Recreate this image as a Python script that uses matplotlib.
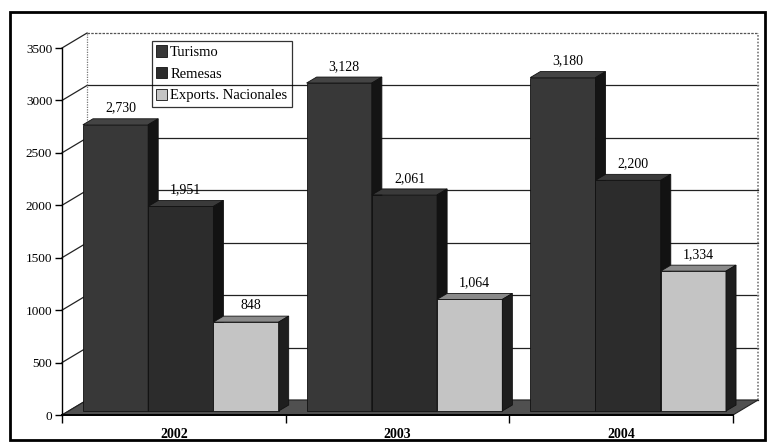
import numpy as np
import matplotlib.pyplot as plt
from matplotlib.patches import Patch, Rectangle

plt.rcParams['font.family'] = ['Liberation Serif', 'DejaVu Serif']

# Data (millones US$)
years = ['2002', '2003', '2004']
series = ['Turismo', 'Remesas', 'Exports. Nacionales']
turismo = [2730, 3128, 3180]
remesas = [1951, 2061, 2200]
exports = [848, 1064, 1334]
values = [turismo, remesas, exports]

# Colours: front, top, side
front_cols = ['#383838', '#2c2c2c', '#c4c4c4']
top_cols = ['#444444', '#3a3a3a', '#8a8a8a']
side_cols = ['#141414', '#121212', '#1e1e1e']

# pseudo-3D geometry (data units)
WALL_DX, WALL_DY = 0.112, 143     # depth of floor / side wall
BAR_DX, BAR_DY = 0.045, 57        # depth of the bars
OFF_X, OFF_Y = 0.031, 38          # bars sit mid-depth
BAR_W = 0.2917
YMAX = 3500

fig = plt.figure(figsize=(7.73, 4.47), dpi=100)
ax = fig.add_axes([62 / 773, 1 - 415 / 447, 671 / 773, 367 / 447])
ax.set_xlim(0, 3)
ax.set_ylim(0, YMAX)

# back wall gridlines and left wall diagonals
for v in range(0, YMAX + 1, 500):
    ls = (0, (2, 1)) if v == YMAX else '-'
    col = '#555555' if v == YMAX else '#222222'
    ax.plot([WALL_DX, 3 + WALL_DX], [v + WALL_DY, v + WALL_DY], color=col,
            lw=0.9, ls=ls, clip_on=False, zorder=1)
    ax.plot([0, WALL_DX], [v, v + WALL_DY], color='#222222', lw=0.9,
            clip_on=False, zorder=1)
ax.plot([WALL_DX, WALL_DX], [WALL_DY, YMAX + WALL_DY], color='#777777', lw=0.9,
        ls=(0, (1, 1)), clip_on=False, zorder=1)
ax.plot([3 + WALL_DX, 3 + WALL_DX], [WALL_DY, YMAX + WALL_DY], color='#777777',
        lw=1.2, ls=(0, (1, 1)), clip_on=False, zorder=1)

# floor
ax.fill([0, 3, 3 + WALL_DX, WALL_DX], [0, 0, WALL_DY, WALL_DY], color='#505050',
        ec='#222222', lw=0.8, clip_on=False, zorder=2)

# bars
x = np.arange(len(years)) + 0.5 + OFF_X
for j, vals in enumerate(values):
    xs = x + (j - 1) * BAR_W
    ax.bar(xs, vals, BAR_W, bottom=OFF_Y, color=front_cols[j], ec='#111111',
           lw=0.6, zorder=3 + j, clip_on=False)
    for xc, v in zip(xs, vals):
        x0, x1 = xc - BAR_W / 2, xc + BAR_W / 2
        top = v + OFF_Y
        ax.fill([x0, x1, x1 + BAR_DX, x0 + BAR_DX],
                [top, top, top + BAR_DY, top + BAR_DY],
                color=top_cols[j], ec='#111111', lw=0.6, zorder=3 + j, clip_on=False)
        ax.fill([x1, x1 + BAR_DX, x1 + BAR_DX, x1],
                [OFF_Y, OFF_Y + BAR_DY, top + BAR_DY, top],
                color=side_cols[j], ec='#111111', lw=0.6, zorder=3 + j, clip_on=False)
        ax.text(xc + BAR_DX / 2, top + BAR_DY + 40, f"{v:,}", ha='center',
                va='bottom', fontsize=10, zorder=10)

# axes
for s in ['top', 'right']:
    ax.spines[s].set_visible(False)
ax.spines['left'].set_linewidth(1.0)
ax.spines['bottom'].set_linewidth(1.4)
ax.set_yticks(range(0, YMAX + 1, 500))
ax.tick_params(axis='y', length=5, width=1, pad=2, labelsize=9.5)
ax.set_xticks([0, 1, 2, 3])
ax.set_xticklabels([])
ax.set_xticks(np.arange(3) + 0.5, minor=True)
ax.set_xticklabels(years, minor=True, fontsize=10, fontweight='bold')
ax.tick_params(axis='x', which='major', length=6, width=1)
ax.tick_params(axis='x', which='minor', length=0, pad=9)
ax.patch.set_alpha(0)

# legend (transparent box, gridline shows through)
handles = [Patch(fc=c, ec='#111111', lw=0.6) for c in front_cols]
leg = fig.legend(handles, series, loc='upper left',
                 bbox_to_anchor=(152 / 773, 1 - 41 / 447), fontsize=10.5,
                 frameon=True, fancybox=False, edgecolor='black',
                 facecolor='none', framealpha=None,
                 handlelength=0.75, handleheight=0.8, handletextpad=0.2,
                 labelspacing=0.55, borderpad=0.3, borderaxespad=0)
leg.get_frame().set_linewidth(0.9)
leg.set_zorder(20)

# outer frame
fig.patches.append(Rectangle((10 / 773, 7 / 447), 755 / 773, 428 / 447,
                             transform=fig.transFigure, fill=False,
                             ec='black', lw=2))

fig.savefig('out.png', dpi=100)
